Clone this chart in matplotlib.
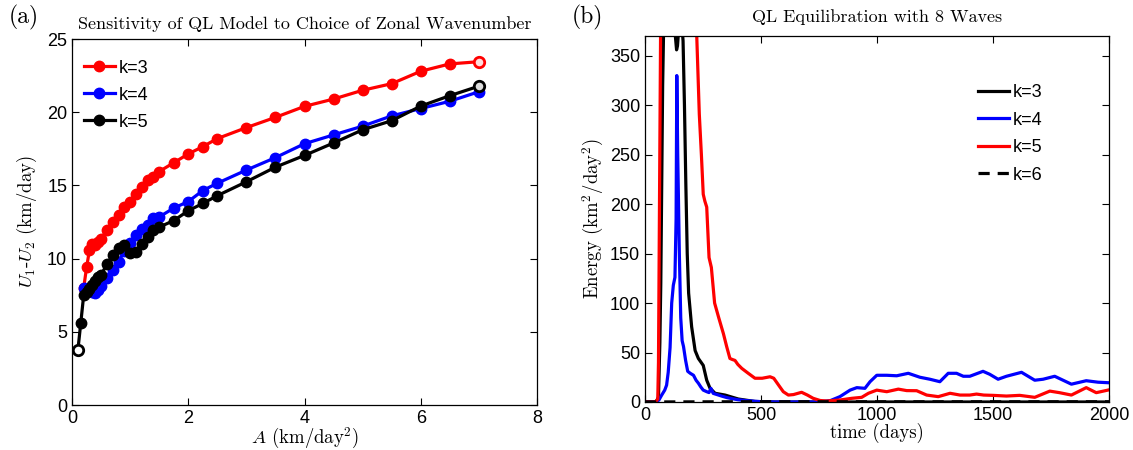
from matplotlib import pyplot

# (a) zonal wind shear vs forcing amplitude
A_K3 = [0.2, 0.25, 0.3, 0.35, 0.4, 0.45, 0.5, 0.6, 0.7, 0.8, 0.9, 1.0, 1.1, 1.2, 1.3, 1.4, 1.5,
        1.75, 2.0, 2.25, 2.5, 3.0, 3.5, 4.0, 4.5, 5.0, 5.5, 6.0, 6.5, 7.0]
U_K3 = [8.0, 9.4, 10.6, 11.0, 10.95, 11.15, 11.35, 11.95, 12.5, 13.0, 13.5, 13.9, 14.4, 14.9, 15.35,
        15.6, 15.95, 16.55, 17.15, 17.65, 18.2, 18.95, 19.65, 20.4, 20.9, 21.5, 21.95, 22.8, 23.3, 23.45]
A_K4 = [0.2, 0.25, 0.3, 0.35, 0.4, 0.45, 0.5, 0.6, 0.7, 0.8, 0.9, 1.0, 1.1, 1.2, 1.3, 1.4, 1.5,
        1.75, 2.0, 2.25, 2.5, 3.0, 3.5, 4.0, 4.5, 5.0, 5.5, 6.0, 6.5, 7.0]
U_K4 = [8.0, 7.95, 7.85, 7.75, 7.67, 7.85, 8.15, 8.65, 9.2, 9.8, 10.5, 11.05, 11.6, 12.0, 12.3,
        12.75, 12.85, 13.45, 13.9, 14.65, 15.15, 16.05, 16.9, 17.85, 18.45, 19.05, 19.75, 20.25, 20.75, 21.4]
A_K5 = [0.1, 0.15, 0.2, 0.25, 0.3, 0.35, 0.4, 0.45, 0.5, 0.6, 0.7, 0.8, 0.9, 1.0, 1.1, 1.2, 1.3, 1.4,
        1.5, 1.75, 2.0, 2.25, 2.5, 3.0, 3.5, 4.0, 4.5, 5.0, 5.5, 6.0, 6.5, 7.0]
U_K5 = [3.75, 5.6, 7.5, 7.7, 7.95, 8.2, 8.5, 8.75, 8.9, 9.6, 10.25, 10.75, 10.95, 10.4, 10.42, 10.97,
        11.5, 11.95, 12.15, 12.6, 13.27, 13.77, 14.3, 15.25, 16.25, 17.05, 17.9, 18.8, 19.42, 20.42,
        21.13, 21.78]

# (b) energy time series, days / km^2 day^-2
T_K3 = [0, 40, 50, 58, 64, 68, 72, 76, 80, 90, 105, 120, 130, 136, 140, 146, 152, 158, 164, 170, 176,
        182, 188, 201, 216, 230, 251, 266, 280, 302, 345, 402, 474, 560, 2000]
E_K3 = [0, 0, 1, 5, 60, 120, 220, 320, 375, 430, 460, 410, 372, 356, 360, 380, 395, 385, 365, 300, 220,
        150, 110, 76, 52, 44, 37, 22, 14, 8.8, 7, 3, 0.5, 0, 0]
T_K4 = [0, 43, 60, 72, 85, 93, 100, 108, 115, 122, 129, 134, 137, 141, 148, 154, 160, 166, 175, 184,
        195, 209, 220, 230, 241, 251, 266, 276, 284, 294, 310, 330, 352, 374, 400, 431, 470, 503, 560,
        740, 783, 800, 840, 884, 913, 948, 970, 999, 1042, 1085, 1135, 1185, 1228, 1271, 1307, 1343,
        1372, 1400, 1457, 1486, 1522, 1558, 1623, 1680, 1716, 1766, 1802, 1838, 1902, 1953, 1995]
E_K4 = [0, 0, 2, 7, 12, 17, 30, 55, 100, 118, 126, 185, 330, 250, 150, 85, 62, 56, 42, 31,
        29, 27, 22, 19, 15, 12, 10.4, 9.5, 13.8, 8.7, 7.5, 6, 4.5, 3.4, 2.3, 1.5, 0.8, 0.3, 0,
        0, 1, 1.5, 5.4, 12, 14.5, 13.8, 20.5, 27, 27, 26.5, 29, 25, 23, 20.5, 29, 29,
        26, 26, 31, 28, 23, 26, 30, 22, 23, 26, 22, 18, 21.5, 20, 19.5]
T_K5 = [0, 45, 55, 58, 61, 64, 67, 75, 90, 110, 130, 160, 190, 210, 223, 234, 243, 251, 258, 266, 276,
        286, 300, 318, 338, 352, 366, 376, 388, 400, 417, 445, 474, 505, 539, 555, 567, 582, 596, 618,
        640, 675, 700, 725, 755, 783, 840, 891, 934, 963, 999, 1042, 1092, 1128, 1171, 1214, 1264,
        1315, 1358, 1400, 1429, 1460, 1500, 1558, 1615, 1680, 1745, 1787, 1838, 1902, 1945, 1995]
E_K5 = [0, 0, 3, 40, 150, 260, 370, 600, 850, 950, 900, 750, 600, 480, 370, 291, 250, 210, 203, 197, 146,
        136, 100, 85, 69, 56, 44, 43, 42, 38, 34, 29, 24, 24, 25.5, 24, 20, 15, 10.4, 7,
        7.5, 9.8, 7, 3.7, 1.5, 1, 2, 3.7, 4.7, 8.8, 12, 10.4, 13, 11.5, 11.4, 7, 5.4,
        8.8, 7, 7, 8, 7, 6.7, 6, 6.7, 4.7, 11, 9.4, 7, 14.5, 9.4, 12]
T_K6 = [0, 500, 1000, 1500, 2000]
E_K6 = [0, 0.3, 0.2, 0.2, 0.2]

_SERIF = 'cmr10'
_LABEL_SIZE = 13.5
_TITLE_SIZE = 13
_LW = 2.3

pyplot.rcParams['font.family'] = ['Liberation Sans', 'DejaVu Sans']
pyplot.rcParams['mathtext.fontset'] = 'cm'
pyplot.rcParams['axes.unicode_minus'] = False


def style_axes(ax):
    ax.tick_params(direction='in', top=True, right=True, length=5, width=0.8,
                   labelsize=13, colors='black')
    for side in ('top', 'bottom', 'left', 'right'):
        ax.spines[side].set_linewidth(0.9)


fig = pyplot.figure(figsize=(11.33, 4.5), dpi=100)

# Panel (a)
ax = fig.add_axes([0.0636, 0.1, 0.4104, 0.8133])
ax.plot(A_K3, U_K3, '-o', color='#ff0000', lw=_LW, ms=7.5, label='k=3')
ax.plot(A_K4, U_K4, '-o', color='#0000ff', lw=_LW, ms=7.5, label='k=4')
ax.plot(A_K5, U_K5, '-o', color='black', lw=_LW, ms=7.5, label='k=5')
# end points are drawn hollow in the original
ax.plot(A_K3[-1], U_K3[-1], 'o', color='#ff0000', mfc='#ffdddd', mew=2, ms=7.5)
ax.plot(A_K5[0], U_K5[0], 'o', color='black', mfc='white', mew=2, ms=7.5)
ax.plot(A_K5[-1], U_K5[-1], 'o', color='black', mfc='#dddddd', mew=2, ms=7.5)
ax.set_xlim(0, 8)
ax.set_ylim(0, 25)
ax.set_xticks([0, 2, 4, 6, 8])
ax.set_yticks([0, 5, 10, 15, 20, 25])
style_axes(ax)
ax.set_title('Sensitivity of QL Model to Choice of Zonal Wavenumber', fontfamily=_SERIF,
             fontsize=_TITLE_SIZE, pad=7)
ax.set_xlabel(r'$A$ (km/day$^2$)', fontfamily=_SERIF, fontsize=_LABEL_SIZE, labelpad=-1)
ax.set_ylabel(r'$U_1$-$U_2$ (km/day)', fontfamily=_SERIF, fontsize=_LABEL_SIZE, labelpad=6)
ax.legend(loc='upper left', bbox_to_anchor=(-0.01, 0.988), frameon=False, fontsize=13,
          handlelength=1.75, handletextpad=0.2, labelspacing=0.55, numpoints=1)

# Panel (b)
bx = fig.add_axes([0.5693, 0.1067, 0.4095, 0.8133])
bx.plot(T_K3, E_K3, color='black', lw=_LW, label='k=3')
bx.plot(T_K4, E_K4, color='#0000ff', lw=_LW, label='k=4')
bx.plot(T_K5, E_K5, color='#ff0000', lw=_LW, label='k=5')
bx.plot(T_K6, E_K6, '--', color='black', lw=_LW, dashes=(3.5, 2.5), label='k=6')
bx.set_xlim(0, 2000)
bx.set_ylim(0, 370)
bx.set_xticks([0, 500, 1000, 1500, 2000])
bx.set_yticks(range(0, 351, 50))
style_axes(bx)
bx.set_title('QL Equilibration with 8 Waves', fontfamily=_SERIF, fontsize=_TITLE_SIZE, pad=10)
bx.set_xlabel('time (days)', fontfamily=_SERIF, fontsize=_LABEL_SIZE, labelpad=-1)
bx.set_ylabel(r'Energy (km$^2$/day$^2$)', fontfamily=_SERIF, fontsize=_LABEL_SIZE, labelpad=3)
bx.legend(loc='upper left', bbox_to_anchor=(0.682, 0.913), frameon=False, fontsize=13,
          handlelength=1.75, handletextpad=0.2, labelspacing=0.58)

fig.text(0.008, 0.99, '(a)', fontfamily=_SERIF, fontsize=17, va='top', ha='left')
fig.text(0.505, 0.99, '(b)', fontfamily=_SERIF, fontsize=17, va='top', ha='left')

fig.savefig('out.png', dpi=100)
